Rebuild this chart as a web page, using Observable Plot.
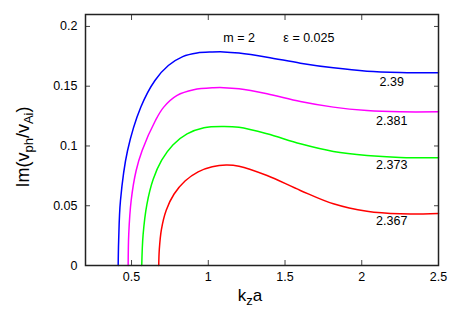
<!DOCTYPE html>
<html><head><meta charset="utf-8">
<script src="https://cdn.jsdelivr.net/npm/d3@7"></script>
<script src="https://cdn.jsdelivr.net/npm/@observablehq/plot@0.6"></script>
<style>body{margin:0;background:#fff} svg{display:block}</style>
</head><body><div id="chart"></div>
<script>
const xTicks = [0.5, 1, 1.5, 2, 2.5];
const yTicks = [0, 0.05, 0.1, 0.15, 0.2];
const xTickLabels = ["0.5", "1", "1.5", "2", "2.5"];
const yTickLabels = ["0", "0.05", "0.1", "0.15", "0.2"];
const seriesNames = ["2.39", "2.381", "2.373", "2.367"];
const seriesColors = ["#0000ff", "#ff00ff", "#00ff00", "#ff0000"];
const blue = [[0.4129,0],[0.4161,0.0209],[0.4279,0.0544],[0.4734,0.0958],[0.5607,0.1326],[0.6525,0.1548],[0.7397,0.1673],[0.8335,0.1748],[0.9272,0.1778],[1.0249,0.1786],[1.1,0.1787],[1.2,0.1777],[1.383,0.1743],[1.6,0.1693],[1.815,0.1654],[2.034,0.1626],[2.25,0.1615],[2.5,0.1612]];
const magenta = [[0.478,0],[0.4819,0.0265],[0.4975,0.0544],[0.5301,0.0795],[0.5691,0.0962],[0.6557,0.1213],[0.7098,0.1325],[0.797,0.1423],[0.9051,0.147],[1.0353,0.1487],[1.1,0.1488],[1.2,0.1479],[1.383,0.1437],[1.6,0.1372],[1.815,0.1325],[2.034,0.1297],[2.25,0.1286],[2.5,0.1286]];
const green = [[0.5665,0],[0.5753,0.0257],[0.6001,0.0512],[0.6411,0.0721],[0.6964,0.0881],[0.7693,0.1009],[0.8618,0.1101],[0.9718,0.1153],[1.0984,0.1163],[1.2,0.1156],[1.383,0.1102],[1.6,0.1018],[1.815,0.0954],[2.034,0.092],[2.25,0.0904],[2.5,0.0901]];
const red = [[0.6772,0],[0.6809,0.0134],[0.6945,0.0301],[0.726,0.0463],[0.7773,0.0598],[0.8485,0.0707],[0.9338,0.0784],[1.0256,0.0826],[1.1162,0.0841],[1.2,0.0831],[1.383,0.0753],[1.6,0.0628],[1.815,0.0516],[2.034,0.0454],[2.25,0.0432],[2.5,0.0435]];
const labelX = [2.195, 2.195, 2.195, 2.195];
const labelY = [0.1534, 0.1209, 0.0837, 0.037];
const annotX = [1.098, 1.489];
const annotY = [0.1904, 0.1904];
const annotText = ["m = 2", "ε = 0.025"];

const seriesData = [blue, magenta, green, red];
const rows = seriesData.flatMap((s, i) => s.map(([x, y]) => ({x, y, series: seriesNames[i]})));
const labels = seriesNames.map((n, i) => ({x: labelX[i], y: labelY[i], text: n}));
const annots = annotText.map((t, i) => ({x: annotX[i], y: annotY[i], text: t}));
const xFmt = (d) => xTickLabels[xTicks.indexOf(d)];
const yFmt = (d) => yTickLabels[yTicks.indexOf(d)];

const font = "Liberation Sans, Arial, Helvetica, sans-serif";
const chart = Plot.plot({
  width: 457, height: 319,
  marginLeft: 85, marginRight: 19, marginTop: 14, marginBottom: 54,
  style: {fontFamily: font, fontSize: "12.5px", color: "#000", background: "#fff"},
  x: {domain: [0.2, 2.5]},
  y: {domain: [0, 0.21]},
  color: {domain: seriesNames, range: seriesColors},
  marks: [
    Plot.line(rows, {x: "x", y: "y", z: "series", stroke: "series", strokeWidth: 1.5, curve: "catmull-rom"}),
    Plot.axisX(xTicks, {anchor: "bottom", tickSize: 0, tickPadding: 7, tickFormat: xFmt, label: null}),
    Plot.axisY(yTicks, {anchor: "left", tickSize: 0, tickPadding: 8, tickFormat: yFmt, label: null}),
    Plot.axisX(xTicks, {anchor: "bottom", tickSize: -5, stroke: "#444", tickFormat: () => "", label: null}),
    Plot.axisX(xTicks, {anchor: "top", tickSize: -5, stroke: "#444", tickFormat: () => "", label: null}),
    Plot.axisY(yTicks, {anchor: "left", tickSize: -5, stroke: "#444", tickFormat: () => "", label: null}),
    Plot.axisY(yTicks, {anchor: "right", tickSize: -5, stroke: "#444", tickFormat: () => "", label: null}),
    Plot.frame({stroke: "#222", strokeWidth: 1.5}),
    Plot.text(labels, {x: "x", y: "y", text: "text", fill: "#000"}),
    Plot.text(annots, {x: "x", y: "y", text: "text", textAnchor: "start", fill: "#000"})
  ]
});
document.getElementById("chart").appendChild(chart);

const svg = d3.select(chart);
const yt = svg.append("text").attr("transform", "translate(29,147) rotate(-90)")
  .attr("text-anchor", "middle").attr("font-size", 18).attr("font-family", font).attr("fill", "#000");
yt.append("tspan").text("Im(v");
yt.append("tspan").attr("font-size", 13).attr("dy", 4).text("ph");
yt.append("tspan").attr("dy", -4).text("/v");
yt.append("tspan").attr("font-size", 13).attr("dy", 4).text("Ai");
yt.append("tspan").attr("dy", -4).text(")");
const xt = svg.append("text").attr("x", 250).attr("y", 301)
  .attr("font-size", 17).attr("font-family", font).attr("fill", "#000");
xt.append("tspan").text("k");
xt.append("tspan").attr("font-size", 13).attr("dy", 4).text("z");
xt.append("tspan").attr("dy", -4).text("a");
</script>
</body></html>
